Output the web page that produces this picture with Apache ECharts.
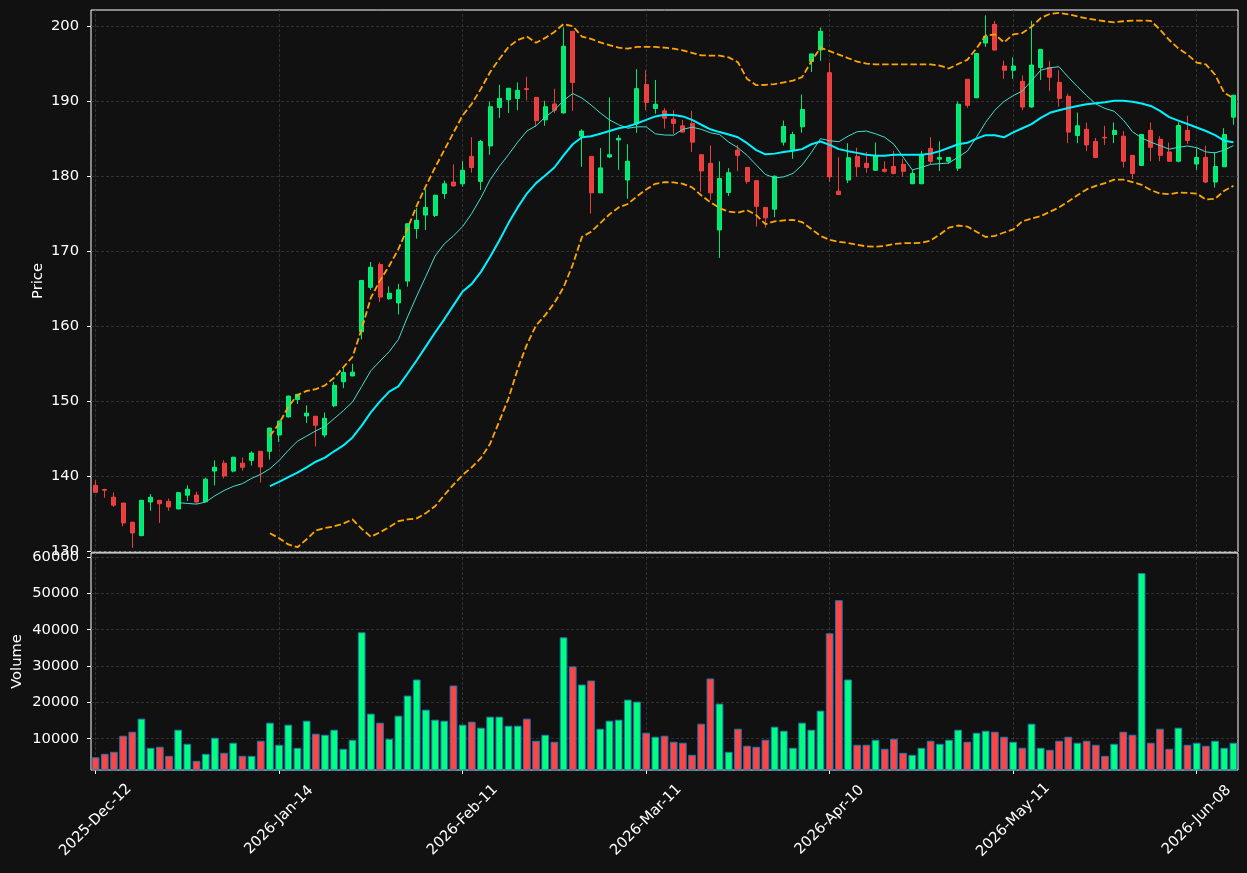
<!DOCTYPE html>
<html>
<head>
<meta charset="utf-8">
<title>Price / Volume</title>
<script src="https://cdn.jsdelivr.net/npm/echarts@6/dist/echarts.min.js"></script>
<style>
html, body { margin: 0; padding: 0; background: #111111; }
#chart { width: 1247px; height: 873px; }
</style>
</head>
<body>
<div id="chart"></div>
<script>
var dates = [
    '2025-Dec-12', '2025-Dec-15', '2025-Dec-16', '2025-Dec-17', '2025-Dec-18', '2025-Dec-19', '2025-Dec-22', '2025-Dec-23', '2025-Dec-24', '2025-Dec-29',
    '2025-Dec-30', '2025-Dec-31', '2026-Jan-02', '2026-Jan-05', '2026-Jan-06', '2026-Jan-07', '2026-Jan-08', '2026-Jan-09', '2026-Jan-12', '2026-Jan-13',
    '2026-Jan-14', '2026-Jan-15', '2026-Jan-16', '2026-Jan-19', '2026-Jan-20', '2026-Jan-21', '2026-Jan-22', '2026-Jan-23', '2026-Jan-26', '2026-Jan-27',
    '2026-Jan-28', '2026-Jan-29', '2026-Jan-30', '2026-Feb-02', '2026-Feb-03', '2026-Feb-04', '2026-Feb-05', '2026-Feb-06', '2026-Feb-09', '2026-Feb-10',
    '2026-Feb-11', '2026-Feb-12', '2026-Feb-13', '2026-Feb-16', '2026-Feb-17', '2026-Feb-18', '2026-Feb-19', '2026-Feb-20', '2026-Feb-23', '2026-Feb-24',
    '2026-Feb-25', '2026-Feb-26', '2026-Feb-27', '2026-Mar-02', '2026-Mar-03', '2026-Mar-04', '2026-Mar-05', '2026-Mar-06', '2026-Mar-09', '2026-Mar-10',
    '2026-Mar-11', '2026-Mar-12', '2026-Mar-13', '2026-Mar-16', '2026-Mar-17', '2026-Mar-18', '2026-Mar-19', '2026-Mar-20', '2026-Mar-23', '2026-Mar-24',
    '2026-Mar-25', '2026-Mar-26', '2026-Mar-27', '2026-Mar-30', '2026-Mar-31', '2026-Apr-01', '2026-Apr-02', '2026-Apr-07', '2026-Apr-08', '2026-Apr-09',
    '2026-Apr-10', '2026-Apr-13', '2026-Apr-14', '2026-Apr-15', '2026-Apr-16', '2026-Apr-17', '2026-Apr-20', '2026-Apr-21', '2026-Apr-22', '2026-Apr-23',
    '2026-Apr-24', '2026-Apr-27', '2026-Apr-28', '2026-Apr-29', '2026-Apr-30', '2026-May-04', '2026-May-05', '2026-May-06', '2026-May-07', '2026-May-08',
    '2026-May-11', '2026-May-12', '2026-May-13', '2026-May-14', '2026-May-15', '2026-May-18', '2026-May-19', '2026-May-20', '2026-May-21', '2026-May-22',
    '2026-May-25', '2026-May-26', '2026-May-27', '2026-May-28', '2026-May-29', '2026-Jun-01', '2026-Jun-02', '2026-Jun-03', '2026-Jun-04', '2026-Jun-05',
    '2026-Jun-08', '2026-Jun-09', '2026-Jun-10', '2026-Jun-11', '2026-Jun-12'
];

var opens = [
    138.75, 138.2, 137.18, 136.39, 133.84, 132.04, 136.53, 136.76, 136.62, 135.6,
    137.44, 137.45, 136.57, 140.65, 141.71, 140.65, 141.71, 142.08, 143.29, 143.29,
    145.46, 147.87, 150.19, 148.0, 147.96, 145.46, 149.35, 152.55, 153.33, 159.21,
    165.14, 168.19, 163.61, 163.06, 165.97, 172.96, 174.77, 174.72, 177.64, 179.17,
    178.94, 182.59, 179.26, 183.98, 189.12, 190.14, 190.32, 191.62, 190.46, 187.45,
    189.58, 188.38, 199.26, 185.28, 182.59, 177.73, 182.5, 184.77, 179.44, 186.9,
    192.18, 188.98, 188.66, 187.55, 186.67, 186.99, 182.82, 181.67, 172.78, 177.78,
    183.43, 181.11, 179.35, 175.79, 175.56, 184.49, 183.52, 186.53, 195.23, 196.76,
    193.75, 177.96, 179.44, 182.59, 181.67, 180.74, 180.88, 181.25, 181.53, 178.94,
    178.94, 183.66, 182.22, 181.94, 181.02, 192.87, 190.4, 197.69, 200.19, 194.63,
    194.07, 192.59, 189.17, 194.44, 194.44, 192.45, 190.6, 185.37, 186.2, 184.58,
    185.14, 185.51, 185.28, 182.73, 181.39, 186.06, 184.86, 183.19, 181.94, 186.06,
    181.57, 182.45, 179.17, 181.2, 187.82
];
var closes = [
    137.82, 138.1, 136.11, 133.75, 132.41, 136.76, 137.18, 136.3, 135.88, 137.78,
    138.24, 136.53, 139.58, 141.16, 140.0, 142.5, 141.16, 143.06, 141.2, 146.39,
    147.31, 150.65, 150.88, 148.38, 146.76, 147.69, 152.08, 153.8, 153.84, 166.06,
    167.82, 163.84, 164.35, 164.81, 173.61, 174.07, 175.79, 177.41, 178.94, 178.66,
    180.74, 181.11, 184.58, 189.21, 190.32, 191.67, 191.39, 191.5, 187.36, 189.21,
    188.75, 197.27, 192.45, 185.97, 177.73, 181.06, 182.82, 185.0, 181.94, 191.62,
    189.77, 189.54, 187.69, 186.99, 185.83, 184.49, 180.65, 177.73, 179.63, 180.42,
    182.73, 179.26, 175.93, 174.4, 179.95, 186.57, 185.51, 188.84, 196.25, 199.26,
    179.86, 177.5, 182.41, 181.2, 181.11, 182.59, 180.6, 180.32, 180.6, 180.32,
    182.82, 181.94, 182.45, 182.45, 189.54, 189.4, 196.3, 198.61, 196.76, 194.07,
    194.63, 189.17, 194.77, 196.85, 193.15, 190.32, 185.83, 186.67, 184.12, 182.45,
    185.05, 186.06, 181.94, 180.32, 185.51, 183.8, 182.73, 181.94, 186.71, 184.72,
    182.45, 179.17, 181.25, 185.51, 190.74
];
var lows = [
    137.8, 137.1, 135.88, 133.29, 130.42, 132.0, 135.37, 133.75, 135.37, 135.6,
    136.67, 136.3, 136.5, 138.75, 139.68, 140.5, 140.7, 141.39, 139.12, 142.18,
    144.54, 147.8, 149.6, 147.08, 143.94, 145.14, 149.17, 151.71, 153.3, 158.2,
    164.81, 163.19, 163.5, 161.53, 165.23, 171.62, 172.78, 174.5, 176.94, 178.56,
    178.56, 180.42, 178.1, 182.8, 187.73, 188.38, 188.75, 190.05, 186.53, 186.67,
    188.38, 188.3, 188.66, 181.2, 174.95, 177.7, 182.4, 180.79, 176.94, 185.74,
    188.75, 188.29, 186.3, 185.6, 185.74, 183.19, 177.87, 176.8, 169.07, 177.31,
    180.65, 178.94, 173.24, 173.1, 174.49, 184.03, 182.27, 185.74, 193.84, 195.32,
    179.17, 177.45, 179.03, 179.86, 180.42, 180.65, 180.42, 180.19, 179.86, 178.9,
    178.9, 181.57, 180.65, 181.57, 180.65, 189.07, 190.35, 197.18, 196.7, 192.92,
    192.92, 188.75, 189.1, 192.78, 191.3, 189.21, 184.35, 184.35, 183.29, 182.36,
    184.12, 184.35, 181.11, 179.58, 181.3, 181.94, 181.94, 181.9, 181.8, 184.26,
    180.79, 179.03, 178.43, 181.2, 186.8
];
var highs = [
    139.44, 138.3, 137.82, 136.4, 133.9, 136.8, 137.59, 136.8, 136.99, 137.9,
    138.75, 137.9, 139.8, 142.08, 142.08, 142.55, 142.45, 143.29, 143.3, 146.45,
    147.4, 150.7, 150.95, 149.4, 148.0, 148.47, 152.55, 154.49, 154.95, 166.1,
    168.52, 168.47, 165.28, 165.6, 173.7, 175.69, 178.2, 177.5, 179.35, 181.53,
    181.94, 185.14, 184.8, 189.9, 192.13, 191.7, 192.45, 193.2, 190.5, 190.0,
    191.62, 199.77, 199.3, 186.2, 182.6, 183.7, 190.46, 185.42, 184.21, 194.21,
    194.07, 192.78, 189.03, 188.75, 187.45, 188.66, 182.85, 184.03, 181.94, 181.02,
    184.12, 181.15, 179.4, 175.85, 180.05, 187.36, 185.88, 190.83, 196.3, 199.77,
    195.09, 182.5, 184.35, 183.75, 183.19, 184.44, 181.94, 183.33, 182.27, 180.79,
    183.29, 185.14, 184.6, 182.5, 189.91, 192.9, 196.35, 201.39, 200.65, 195.37,
    195.79, 193.38, 200.65, 196.9, 195.32, 194.07, 190.93, 188.43, 187.08, 185.05,
    186.67, 187.13, 185.97, 182.75, 185.6, 187.13, 185.28, 184.44, 187.13, 188.01,
    183.66, 184.03, 183.19, 186.34, 190.8
];
var volumes = [
    4900, 5860, 6410, 10830, 11930, 15530, 7510, 7790, 5300, 12490,
    8620, 3920, 5860, 10280, 6130, 8900, 5300, 5300, 9450, 14420,
    8340, 13870, 7510, 14970, 11380, 11100, 12490, 7240, 9720, 39280,
    16910, 14420, 10000, 16350, 21880, 26300, 18010, 15250, 14970, 24640,
    13870, 14700, 13040, 16080, 16080, 13590, 13590, 15530, 9450, 11100,
    9170, 37900, 29890, 24920, 26020, 12760, 14970, 15250, 20770, 20220,
    11660, 10550, 10830, 9170, 8900, 5580, 14140, 26580, 19670, 6410,
    12760, 8070, 7790, 9720, 13320, 12210, 7510, 14420, 12490, 17740,
    39010, 48120, 26300, 8340, 8340, 9720, 7240, 10000, 6130, 5580,
    7510, 9450, 8620, 9720, 12490, 9170, 11660, 12210, 11930, 10550,
    9170, 7510, 14140, 7510, 6960, 9450, 10550, 8900, 9450, 8340,
    5300, 8620, 11930, 11100, 55580, 8900, 12760, 7240, 13040, 8340,
    8900, 8070, 9450, 7510, 8900
];

// indicator lines; ma10 starts at index 9, the others at index 19
var ma10 = [
    136.44, 136.34, 136.25, 136.53, 137.36, 138.06, 138.61, 138.98, 139.68, 140.23,
    140.97, 142.06, 143.42, 144.63, 145.32, 146.02, 146.62, 147.64, 148.7, 149.86,
    151.94, 154.03, 155.32, 156.57, 158.19, 161.2, 163.98, 166.62, 169.31, 170.93,
    171.99, 173.24, 175.0, 177.1, 179.49, 181.25, 182.82, 184.49, 185.97, 186.67,
    187.82, 188.75, 190.05, 190.97, 190.37, 189.44, 188.38, 187.45, 186.81, 186.34,
    186.53, 186.53, 185.6, 185.44, 185.42, 186.2, 186.48, 186.2, 185.74, 185.51,
    184.49, 183.75, 182.73, 181.44, 180.19, 179.72, 179.86, 180.32, 181.44, 183.1,
    184.95, 184.68, 184.54, 185.28, 185.88, 185.97, 185.6, 185.14, 184.21, 182.5,
    180.79, 181.11, 181.53, 181.62, 181.71, 182.5, 183.29, 185.14, 187.13, 188.75,
    189.91, 190.69, 191.3, 192.69, 194.07, 194.4, 194.54, 193.15, 191.9, 190.69,
    189.58, 188.98, 188.61, 187.45, 185.88, 185.05, 184.49, 184.03, 183.56, 183.8,
    183.98, 183.75, 183.19, 183.06, 183.43, 184.03
];
var ma20 = [
    138.66, 139.21, 139.86, 140.46, 141.16, 141.9, 142.45, 143.29, 144.07, 145.14,
    146.71, 148.47, 149.95, 151.25, 151.94, 153.66, 155.42, 157.27, 159.12, 160.88,
    162.73, 164.58, 165.6, 167.2, 169.21, 171.39, 173.7, 175.79, 177.64, 179.03,
    180.05, 181.11, 182.73, 184.21, 185.14, 185.28, 185.6, 185.97, 186.34, 186.57,
    186.99, 187.45, 187.92, 188.15, 188.1, 187.92, 187.45, 186.81, 186.2, 185.83,
    185.51, 185.14, 184.35, 183.43, 182.87, 182.96, 183.19, 183.33, 183.56, 184.21,
    184.58, 184.12, 183.56, 183.29, 183.06, 182.82, 182.69, 182.69, 182.82, 182.82,
    182.82, 182.82, 182.96, 183.29, 183.75, 184.21, 184.4, 184.95, 185.42, 185.42,
    185.14, 185.79, 186.34, 186.9, 187.73, 188.4, 188.75, 189.03, 189.31, 189.54,
    189.68, 189.81, 190.0, 190.0, 189.86, 189.63, 189.31, 188.66, 187.82, 187.36,
    186.9, 186.44, 185.97, 185.42, 184.68, 184.49
];
var bollUpper = [
    145.32, 147.0, 149.2, 150.79, 151.34, 151.57, 152.08, 153.1, 154.49, 155.88,
    159.58, 163.75, 166.06, 168.01, 170.23, 173.01, 176.02, 178.66, 181.11, 183.43,
    185.74, 188.06, 189.6, 191.6, 193.84, 195.56, 197.18, 198.1, 198.56, 197.73,
    198.38, 199.17, 200.23, 199.95, 198.56, 198.24, 197.78, 197.41, 197.08, 196.94,
    197.18, 197.18, 197.18, 197.08, 196.94, 196.71, 196.39, 196.06, 196.02, 196.02,
    195.79, 195.14, 192.92, 192.08, 192.13, 192.22, 192.45, 192.69, 193.15, 195.23,
    197.08, 196.62, 196.16, 195.69, 195.23, 194.95, 194.86, 194.86, 194.86, 194.86,
    194.86, 194.86, 194.86, 194.68, 194.31, 194.91, 195.46, 196.99, 198.7, 198.84,
    197.78, 198.84, 199.03, 199.86, 201.02, 201.58, 201.71, 201.53, 201.25, 200.97,
    200.79, 200.6, 200.46, 200.6, 200.69, 200.69, 200.65, 199.49, 198.1, 196.99,
    196.16, 195.09, 194.86, 193.47, 191.06, 190.37
];
var bollLower = [
    132.36, 131.71, 130.88, 130.51, 131.57, 132.73, 133.06, 133.29, 133.66, 134.21,
    132.96, 131.9, 132.5, 133.19, 133.98, 134.21, 134.35, 135.05, 135.97, 137.45,
    138.84, 140.14, 141.16, 142.4, 144.31, 147.31, 150.32, 154.26, 157.5, 160.05,
    161.44, 163.06, 165.14, 168.15, 171.85, 172.55, 173.7, 174.86, 175.79, 176.25,
    177.27, 178.19, 178.94, 179.17, 179.12, 178.94, 178.47, 177.41, 176.48, 175.69,
    175.23, 175.09, 175.42, 174.77, 173.56, 173.94, 174.07, 174.12, 173.84, 172.92,
    171.99, 171.48, 171.2, 171.06, 170.81, 170.6, 170.56, 170.65, 170.93, 171.02,
    171.02, 171.06, 171.39, 172.18, 173.1, 173.38, 173.24, 172.55, 171.85, 171.99,
    172.45, 172.87, 173.94, 174.31, 174.63, 175.2, 175.79, 176.57, 177.41, 178.19,
    178.66, 179.03, 179.49, 179.49, 179.17, 178.8, 178.1, 177.64, 177.55, 177.78,
    177.73, 177.64, 176.85, 176.94, 178.01, 178.66
];

var priceTicks = [130, 140, 150, 160, 170, 180, 190, 200];
var volumeTicks = [10000, 20000, 30000, 40000, 50000, 60000];

var upColor = '#00ff7f';
var downColor = '#ff4444';
var textColor = '#ffffff';
var gridColor = '#3a3a3a';
var fontSize = 14.7;

function lead(values, n) {
    return new Array(n).fill(null).concat(values);
}

var candles = opens.map(function (o, i) {
    return [o, closes[i], lows[i], highs[i]];
});

var volumeBars = volumes.map(function (v, i) {
    return {
        value: v,
        itemStyle: { color: closes[i] >= opens[i] ? upColor : downColor }
    };
});

// vertical grid lines sit on the labelled dates (every 20th bar)
var tickLines = dates.filter(function (d, i) {
    return i % 20 === 0;
}).map(function (d) {
    return { xAxis: d };
});

function onTicks(ticks) {
    return function (v) {
        return ticks.indexOf(Math.round(v)) >= 0 && Math.abs(v - Math.round(v)) < 1e-6 ? String(Math.round(v)) : '';
    };
}

var vLines = {
    silent: true,
    z: 1,
    symbol: ['none', 'none'],
    label: { show: false },
    lineStyle: { color: gridColor, type: [3, 2], width: 0.8 },
    data: tickLines
};

var chart = echarts.init(document.getElementById('chart'));

option = {
    backgroundColor: '#111111',
    animation: false,
    textStyle: { fontFamily: 'DejaVu Sans' },
    grid: [
        {
            left: 91, top: 10, width: 1147, height: 542,
            show: true, borderColor: '#ffffff', borderWidth: 1
        },
        {
            left: 91, top: 553, width: 1147, height: 217,
            show: true, borderColor: '#ffffff', borderWidth: 1
        }
    ],
    xAxis: [
        {
            type: 'category',
            gridIndex: 0,
            data: dates,
            boundaryGap: true,
            axisLine: { show: false },
            axisTick: { show: false },
            axisLabel: { show: false },
            splitLine: { show: false }
        },
        {
            type: 'category',
            gridIndex: 1,
            data: dates,
            boundaryGap: true,
            axisLine: { show: false },
            axisTick: {
                show: true,
                interval: 19,
                alignWithLabel: true,
                length: 4,
                lineStyle: { color: textColor }
            },
            axisLabel: {
                interval: 19,
                rotate: 45,
                align: 'center',
                verticalAlign: 'middle',
                margin: 50,
                color: textColor,
                fontSize: fontSize,
                fontFamily: 'DejaVu Sans'
            },
            splitLine: { show: false }
        }
    ],
    yAxis: [
        {
            type: 'value',
            gridIndex: 0,
            min: 129.87,
            max: 202.1,
            splitNumber: 7,
            name: 'Price',
            nameLocation: 'middle',
            nameGap: 45,
            nameMoveOverlap: false,
            nameTextStyle: { color: textColor, fontSize: fontSize, fontFamily: 'DejaVu Sans' },
            axisLine: { show: false },
            axisTick: {
                show: true,
                length: 4,
                customValues: priceTicks,
                lineStyle: { color: textColor }
            },
            axisLabel: {
                margin: 12,
                color: textColor,
                fontSize: fontSize,
                fontFamily: 'DejaVu Sans',
                customValues: priceTicks,
                formatter: onTicks(priceTicks)
            },
            splitLine: {
                show: true,
                lineStyle: { color: gridColor, type: [3, 2], width: 0.8 }
            }
        },
        {
            type: 'value',
            gridIndex: 1,
            min: 1400,
            max: 61100,
            splitNumber: 6,
            name: 'Volume',
            nameLocation: 'middle',
            nameGap: 66,
            nameMoveOverlap: false,
            nameTextStyle: { color: textColor, fontSize: fontSize, fontFamily: 'DejaVu Sans' },
            axisLine: { show: false },
            axisTick: {
                show: true,
                length: 4,
                customValues: volumeTicks,
                lineStyle: { color: textColor }
            },
            axisLabel: {
                margin: 12,
                color: textColor,
                fontSize: fontSize,
                fontFamily: 'DejaVu Sans',
                customValues: volumeTicks,
                formatter: onTicks(volumeTicks)
            },
            splitLine: {
                show: true,
                lineStyle: { color: gridColor, type: [3, 2], width: 0.8 }
            }
        }
    ],
    series: [
        {
            name: 'OHLC',
            type: 'candlestick',
            xAxisIndex: 0,
            yAxisIndex: 0,
            barWidth: 4.5,
            z: 3,
            itemStyle: {
                color: upColor,
                color0: downColor,
                borderColor: upColor,
                borderColor0: downColor,
                borderWidth: 1,
                opacity: 0.9
            },
            data: candles,
            markLine: vLines
        },
        {
            name: 'MA10',
            type: 'line',
            xAxisIndex: 0,
            yAxisIndex: 0,
            symbol: 'none',
            z: 4,
            lineStyle: { color: '#40e0d0', width: 1 },
            data: lead(ma10, 9)
        },
        {
            name: 'MA20',
            type: 'line',
            xAxisIndex: 0,
            yAxisIndex: 0,
            symbol: 'none',
            z: 4,
            lineStyle: { color: '#00f2ff', width: 2 },
            data: lead(ma20, 19)
        },
        {
            name: 'BB upper',
            type: 'line',
            xAxisIndex: 0,
            yAxisIndex: 0,
            symbol: 'none',
            z: 4,
            lineStyle: { color: '#ffa500', width: 1.8, type: [6.5, 2.9] },
            data: lead(bollUpper, 19)
        },
        {
            name: 'BB lower',
            type: 'line',
            xAxisIndex: 0,
            yAxisIndex: 0,
            symbol: 'none',
            z: 4,
            lineStyle: { color: '#ffa500', width: 1.8, type: [6.5, 2.9] },
            data: lead(bollLower, 19)
        },
        {
            name: 'Volume',
            type: 'bar',
            xAxisIndex: 1,
            yAxisIndex: 1,
            barWidth: '84%',
            z: 3,
            itemStyle: {
                borderColor: '#1f77b4',
                borderWidth: 1
            },
            data: volumeBars,
            markLine: vLines
        }
    ]
};

chart.setOption(option);
</script>
</body>
</html>
